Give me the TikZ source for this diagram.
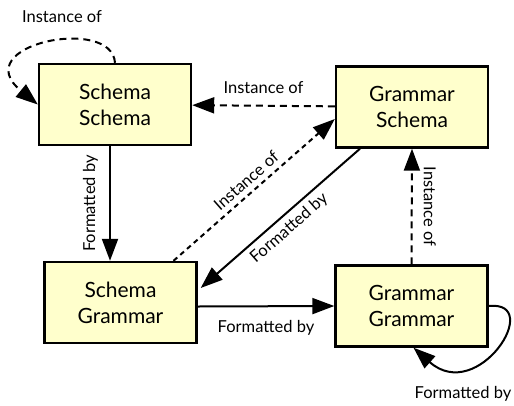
\documentclass[tikz,border=0pt]{standalone}
\usepackage{fontspec}
\setmainfont{Lato}
\usetikzlibrary{arrows.meta}
\definecolor{boxfill}{RGB}{255,255,204}
\tikzset{
    model-box/.style = {draw=black, fill=boxfill, line width=2.4pt, rectangle, minimum width=152pt, minimum height=81pt, align=center, font=\fontsize{21}{26}\selectfont},
    format-edge/.style = {line width=2pt, -{Triangle[length=22pt, width=16pt]}},
    instance-edge/.style = {format-edge, dash pattern=on 7pt off 5pt},
    edge-label/.style = {font=\fontsize{16.5}{19}\selectfont, inner sep=3pt},
}

\begin{document}
\begin{tikzpicture}[x=1pt, y=-1pt]
\useasboundingbox (0,0) rectangle (514,405);
\node [model-box] (ss) at (115,104.5) {Schema\\Schema};
\node [model-box] (gs) at (412,107) {Grammar\\Schema};
\node [model-box] (sg) at (120.5,302.5) {Schema\\Grammar};
\node [model-box] (gg) at (411.5,306) {Grammar\\Grammar};
% instance of
\draw [instance-edge] (ss.north) .. controls (112,15) and (-35,45) .. (ss.west);
\node [edge-label] (ss-loop) at (62,17) {Instance of};
\draw [instance-edge] (gs) -- node[edge-label, above=8pt] {Instance of} (ss);
\draw [instance-edge, dash pattern=on 5pt off 4pt] ([xshift=53pt]sg.north) -- node[edge-label, midway, sloped, above=2pt] {Instance of} ([yshift=-12pt]gs.west);
\draw [instance-edge] (gg.north) -- node[edge-label, midway, rotate=-90, above=8pt] {Instance of} (gs.south);
% formatted by
\draw [format-edge] ([xshift=-5pt]ss.south) -- node[edge-label, midway, rotate=90, above=8pt] {Formatted by} ([xshift=-10.5pt]sg.north);
\draw [format-edge] ([xshift=-52pt]gs.south) -- node[edge-label, midway, sloped, below=2pt] {Formatted by} ([xshift=3pt, yshift=14.5pt]sg.east);
\draw [format-edge] ([yshift=-4pt]sg.east) -- node[edge-label, midway, below=10pt] {Formatted by} (gg.west);
\draw [format-edge] (gg.east) .. controls (545,300) and (478,405) .. ([xshift=2pt]gg.south);
\node [edge-label] (gg-loop) at (463,394) {Formatted by};
\end{tikzpicture}
\end{document}
